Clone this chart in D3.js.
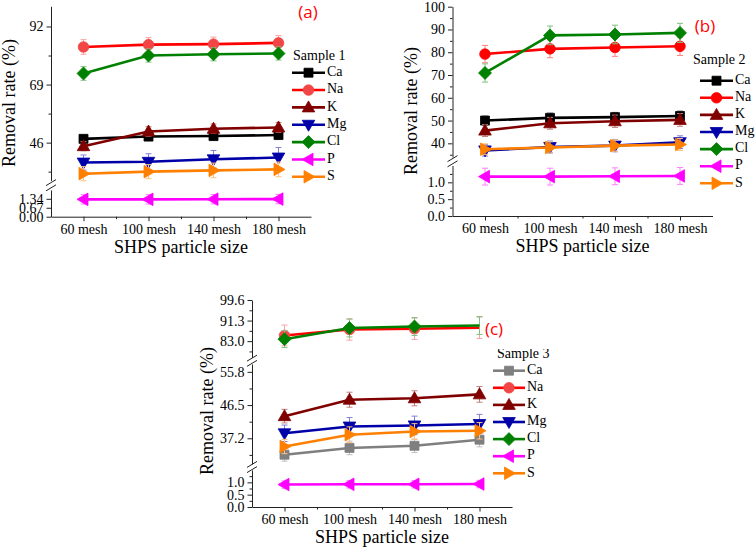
<!DOCTYPE html>
<html><head><meta charset="utf-8">
<script src="https://cdn.jsdelivr.net/npm/d3@7"></script>
<style>body{margin:0;background:#fff} svg{display:block}</style>
</head><body>
<svg id="chart" width="756" height="552"></svg>
<script>
// ---------------- DATA ----------------
const categories = ["60 mesh", "100 mesh", "140 mesh", "180 mesh"];
const elements = ["Ca", "Na", "K", "Mg", "Cl", "P", "S"];

// Sample 1 removal rate (%)
const s1Ca = [47.5, 48.4, 48.6, 49.0];
const s1Na = [83.9, 84.8, 85.0, 85.5];
const s1K  = [44.6, 50.4, 51.5, 52.0];
const s1Mg = [38.1, 38.4, 39.4, 40.1];
const s1Cl = [73.4, 80.5, 81.0, 81.3];
const s1P  = [1.30, 1.30, 1.31, 1.32];
const s1S  = [33.7, 34.5, 35.0, 35.4];
// Sample 1 error
const e1Ca = [1.5, 1.6, 1.6, 1.6];
const e1Na = [2.9, 2.8, 2.8, 2.9];
const e1K  = [1.8, 1.9, 1.9, 2.0];
const e1Mg = [3.0, 3.2, 3.5, 4.0];
const e1Cl = [2.7, 2.6, 2.6, 2.6];
const e1P  = [0.35, 0.35, 0.35, 0.35];
const e1S  = [2.8, 2.8, 2.9, 2.9];

// Sample 2
const s2Ca = [50.0, 51.2, 51.5, 52.0];
const s2Na = [79.2, 81.5, 82.1, 82.6];
const s2K  = [45.6, 48.8, 49.7, 50.3];
const s2Mg = [36.9, 38.4, 39.0, 40.5];
const s2Cl = [70.9, 87.4, 87.8, 88.5];
const s2P  = [1.17, 1.17, 1.18, 1.19];
const s2S  = [37.4, 38.2, 39.0, 39.5];
const e2Ca = [2.0, 2.1, 2.1, 2.2];
const e2Na = [3.8, 3.9, 3.9, 4.0];
const e2K  = [2.6, 2.6, 2.7, 2.8];
const e2Mg = [2.5, 2.6, 2.7, 2.8];
const e2Cl = [4.0, 4.1, 4.1, 4.2];
const e2P  = [0.25, 0.25, 0.25, 0.25];
const e2S  = [2.4, 2.5, 2.5, 2.6];

// Sample 3
const s3Ca = [32.6, 34.5, 35.1, 36.8];
const s3Na = [85.3, 87.7, 88.0, 88.4];
const s3K  = [43.4, 48.0, 48.4, 49.5];
const s3Mg = [38.6, 40.5, 40.8, 41.2];
const s3Cl = [83.8, 88.3, 88.9, 89.3];
const s3P  = [0.91, 0.92, 0.92, 0.93];
const s3S  = [34.9, 38.2, 39.1, 39.3];
const e3Ca = [1.8, 1.9, 1.9, 2.0];
const e3Na = [4.2, 4.3, 4.3, 4.3];
const e3K  = [1.9, 2.1, 2.1, 2.2];
const e3Mg = [2.3, 2.5, 2.6, 2.7];
const e3Cl = [3.4, 3.6, 3.6, 3.6];
const e3P  = [0.15, 0.15, 0.15, 0.15];
const e3S  = [2.0, 2.2, 2.2, 2.3];

// y-axis tick labels per segment
const aTicksLow = [0, 0.67, 1.34];
const aTicksHigh = [46, 69, 92];
const bTicksLow = [0, 0.5, 1.0];
const bTicksHigh = [40, 50, 60, 70, 80, 90, 100];
const cTicksLow = [0, 0.5, 1.0];
const cTicksMid = [37.2, 46.5, 55.8];
const cTicksHigh = [83.0, 91.3, 99.6];

// ---------------- STYLE / LAYOUT ----------------
const serif = "'Liberation Serif','Times New Roman',serif";
const sans = "'Open Sans','Liberation Sans',sans-serif";
const markerOf = {Ca: "square", Na: "circle", K: "up", Mg: "down", Cl: "diamond", P: "left", S: "right"};
const baseColor = {Ca: "#000000", Na: "#ff0000", K: "#800000", Mg: "#0000a8", Cl: "#008000", P: "#ff00ff", S: "#ff8000"};

function markerPath(t) {
  switch (t) {
    case "square": return "M-4.5,-4.5h9v9h-9z";
    case "circle": return "M5.3,0A5.3,5.3 0 1,1 -5.3,0A5.3,5.3 0 1,1 5.3,0Z";
    case "up": return "M0,-6.5L6.3,4.5L-6.3,4.5Z";
    case "down": return "M0,6.5L6.3,-4.5L-6.3,-4.5Z";
    case "diamond": return "M0,-6.5L6.5,0L0,6.5L-6.5,0Z";
    case "left": return "M-6.5,0L4.5,-6.3L4.5,6.3Z";
    case "right": return "M6.5,0L-4.5,-6.3L-4.5,6.3Z";
  }
}

const panels = [
  {
    label: "(a)", labelX: 308, labelY: 13, title: "Sample 1",
    vals: {Ca: s1Ca, Na: s1Na, K: s1K, Mg: s1Mg, Cl: s1Cl, P: s1P, S: s1S},
    errs: {Ca: e1Ca, Na: e1Na, K: e1K, Mg: e1Mg, Cl: e1Cl, P: e1P, S: e1S},
    colors: {Na: "#f24646"},
    axisX: 51, rightX: 311, bottom: 216.7,
    segments: [
      {domain: [0, 2.0], range: [216.7, 190], ticks: aTicksLow, minors: [], fmt: d3.format(".2f")},
      {domain: [31, 100], range: [180.5, 6.3], ticks: aTicksHigh, minors: [34.5, 57.5, 80.5], fmt: d3.format("d")}
    ],
    yTitleX: 11, yTitleY: 103,
    legend: {titleX: 293, titleY: 57, x1: 292, x2: 325, tx: 327, y0: 72.7, dy: 17.35},
    noMarkerLast: []
  },
  {
    label: "(b)", labelX: 705, labelY: 27, title: "Sample 2",
    vals: {Ca: s2Ca, Na: s2Na, K: s2K, Mg: s2Mg, Cl: s2Cl, P: s2P, S: s2S},
    errs: {Ca: e2Ca, Na: e2Na, K: e2K, Mg: e2Mg, Cl: e2Cl, P: e2P, S: e2S},
    colors: {},
    axisX: 452.5, rightX: 712.5, bottom: 216,
    segments: [
      {domain: [0, 1.5], range: [216, 165.5], ticks: bTicksLow, minors: [0.25, 0.75, 1.25], fmt: d3.format(".1f")},
      {domain: [34, 100], range: [157, 6.7], ticks: bTicksHigh, minors: [35, 45, 55, 65, 75, 85, 95], fmt: d3.format("d")}
    ],
    yTitleX: 413, yTitleY: 111,
    legend: {titleX: 693, titleY: 61, x1: 700, x2: 733, tx: 735, y0: 80.7, dy: 17.1},
    noMarkerLast: []
  },
  {
    label: "(c)", labelX: 494, labelY: 330, title: "Sample 3",
    vals: {Ca: s3Ca, Na: s3Na, K: s3K, Mg: s3Mg, Cl: s3Cl, P: s3P, S: s3S},
    errs: {Ca: e3Ca, Na: e3Na, K: e3K, Mg: e3Mg, Cl: e3Cl, P: e3P, S: e3S},
    colors: {Ca: "#7f7f7f", Na: "#f24646"},
    axisX: 252, rightX: 512, bottom: 507,
    segments: [
      {domain: [0, 1.5], range: [507, 470], ticks: cTicksLow, minors: [0.25, 0.75, 1.25], fmt: d3.format(".1f")},
      {domain: [30, 58], range: [464, 364], ticks: cTicksMid, minors: [32.55, 41.85, 51.15], fmt: d3.format(".1f")},
      {domain: [76.4, 99.6], range: [357.5, 300], ticks: cTicksHigh, minors: [78.85, 87.15, 95.45], fmt: d3.format(".1f")}
    ],
    yTitleX: 209, yTitleY: 411,
    legend: {titleX: 497, titleY: 354.5, x1: 493, x2: 525, tx: 527, y0: 370.7, dy: 17.1, clipTop: 349},
    noMarkerLast: ["Na", "Cl"]
  }
];

// ---------------- DRAW ----------------
const svg = d3.select("#chart");
svg.append("rect").attr("width", 756).attr("height", 552).attr("fill", "#fff");
const defs = svg.append("defs");

panels.forEach((p, pi) => {
  const g = svg.append("g");
  const x = d3.scaleLinear().domain([-0.5, 3.5]).range([p.axisX, p.rightX]);
  const segScales = p.segments.map(s => d3.scaleLinear().domain(s.domain).range(s.range));
  const segFor = v => {
    const i = p.segments.findIndex(s => v >= s.domain[0] && v <= s.domain[1]);
    return segScales[i < 0 ? 0 : i];
  };
  const col = el => p.colors[el] || baseColor[el];

  // Y axes (segments)
  p.segments.forEach((s, si) => {
    const sc = segScales[si];
    const ax = g.append("g").attr("transform", `translate(${p.axisX},0)`)
      .call(d3.axisLeft(sc).tickValues(s.ticks).tickFormat(s.fmt).tickSize(4.5).tickSizeOuter(0).tickPadding(3));
    ax.selectAll("text").attr("font-family", serif).attr("font-size", 14).attr("fill", "#000");
    ax.selectAll("line,path").attr("stroke", "#222");
    if (s.minors.length) {
      const mn = g.append("g").attr("transform", `translate(${p.axisX},0)`)
        .call(d3.axisLeft(sc).tickValues(s.minors).tickFormat("").tickSize(2.5).tickSizeOuter(0));
      mn.select(".domain").remove();
      mn.selectAll("line").attr("stroke", "#222");
    }
    // break marks
    if (si > 0) {
      const prevTop = p.segments[si - 1].range[1];
      const curBot = s.range[0];
      const yc = (prevTop + curBot) / 2;
      [-2.6, 2.6].forEach(o => {
        g.append("line").attr("x1", p.axisX - 5).attr("y1", yc + o + 3)
          .attr("x2", p.axisX + 5).attr("y2", yc + o - 3)
          .attr("stroke", "#222").attr("stroke-width", 1);
      });
    }
  });

  // X axis
  const xa = g.append("g").attr("transform", `translate(0,${p.bottom})`)
    .call(d3.axisBottom(x).tickValues([0, 1, 2, 3]).tickFormat(i => categories[i]).tickSize(4.5).tickSizeOuter(0).tickPadding(3));
  xa.selectAll("text").attr("font-family", serif).attr("font-size", 14).attr("fill", "#000");
  xa.selectAll("line,path").attr("stroke", "#222");
  const xm = g.append("g").attr("transform", `translate(0,${p.bottom})`)
    .call(d3.axisBottom(x).tickValues([0.5, 1.5, 2.5]).tickFormat("").tickSize(2.5).tickSizeOuter(0));
  xm.select(".domain").remove();
  xm.selectAll("line").attr("stroke", "#222");

  // titles
  g.append("text").attr("x", (p.axisX + p.rightX) / 2).attr("y", p.bottom + 32)
    .attr("text-anchor", "middle").attr("dominant-baseline", "middle")
    .attr("font-family", serif).attr("font-size", 18).text("SHPS particle size");
  g.append("text").attr("transform", `translate(${p.yTitleX},${p.yTitleY}) rotate(-90)`)
    .attr("text-anchor", "middle").attr("dominant-baseline", "middle")
    .attr("font-family", serif).attr("font-size", 18).text("Removal rate (%)");

  // series
  elements.forEach(el => {
    const vals = p.vals[el], errs = p.errs[el];
    const ys = segFor(vals[0]);
    const c = col(el);
    const light = d3.interpolateRgb(c, "#ffffff")(0.5);
    const pts = vals.map((v, i) => ({i, v, e: errs[i]}));
    // error bars
    const eg = g.append("g").attr("stroke", light).attr("stroke-width", 1);
    pts.forEach(d => {
      const xx = x(d.i), y1 = ys(d.v + d.e), y2 = ys(d.v - d.e);
      eg.append("line").attr("x1", xx).attr("x2", xx).attr("y1", y1).attr("y2", y2);
      eg.append("line").attr("x1", xx - 3).attr("x2", xx + 3).attr("y1", y1).attr("y2", y1);
      eg.append("line").attr("x1", xx - 3).attr("x2", xx + 3).attr("y1", y2).attr("y2", y2);
    });
    g.append("path").datum(pts)
      .attr("d", d3.line().x(d => x(d.i)).y(d => ys(d.v)))
      .attr("fill", "none").attr("stroke", el === "Na" ? "#ff0000" : c)
      .attr("stroke-width", 2.6);
    const mpts = p.noMarkerLast.includes(el) ? pts.slice(0, -1) : pts;
    g.selectAll(null).data(mpts).enter().append("path")
      .attr("d", markerPath(markerOf[el]))
      .attr("transform", d => `translate(${x(d.i)},${ys(d.v)})`)
      .attr("fill", c).attr("stroke", c).attr("stroke-width", 0.8);
  });

  // legend
  const L = p.legend;
  let lt = g.append("text").attr("x", L.titleX).attr("y", L.titleY)
    .attr("dominant-baseline", "middle").attr("font-family", serif).attr("font-size", 14).text(p.title);
  if (L.clipTop) {
    defs.append("clipPath").attr("id", "lclip" + pi).append("rect")
      .attr("x", 0).attr("y", L.clipTop).attr("width", 756).attr("height", 100);
    lt.attr("clip-path", `url(#lclip${pi})`);
  }
  elements.forEach((el, k) => {
    const yy = L.y0 + k * L.dy;
    const c = col(el);
    g.append("line").attr("x1", L.x1).attr("x2", L.x2).attr("y1", yy).attr("y2", yy)
      .attr("stroke", el === "Na" ? "#ff0000" : c).attr("stroke-width", 2.6);
    g.append("path").attr("d", markerPath(markerOf[el]))
      .attr("transform", `translate(${(L.x1 + L.x2) / 2},${yy})`)
      .attr("fill", c).attr("stroke", c).attr("stroke-width", 0.8);
    g.append("text").attr("x", L.tx).attr("y", yy).attr("dominant-baseline", "middle")
      .attr("font-family", serif).attr("font-size", 14).text(el);
  });

  // panel label
  g.append("text").attr("x", p.labelX).attr("y", p.labelY).attr("text-anchor", "middle")
    .attr("dominant-baseline", "middle").attr("font-family", sans).attr("font-size", 17)
    .attr("fill", "#ff0000").text(p.label);
});
</script>
</body></html>
